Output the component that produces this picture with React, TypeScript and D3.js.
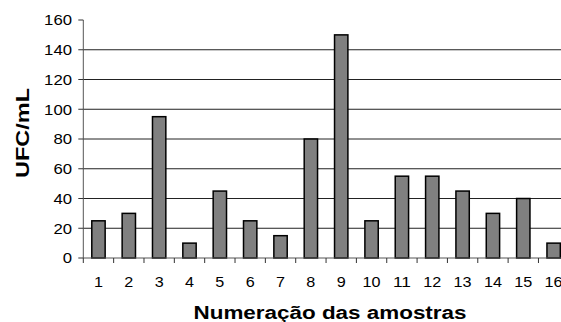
import React from "react";
import * as d3 from "d3";

const categories = ["1","2","3","4","5","6","7","8","9","10","11","12","13","14","15","16"];
const values = [25, 30, 95, 10, 45, 25, 15, 80, 150, 25, 55, 55, 45, 30, 40, 10];
const yTicks = [0, 20, 40, 60, 80, 100, 120, 140, 160];
const yLabel = "UFC/mL";
const xLabel = "Numeração das amostras";

const W = 561, H = 322;
const left = 83.3, right = 568.8, top = 20, bottom = 258;
const font = "Arial, 'Liberation Sans', sans-serif";

export default function App() {
  const x = d3.scaleBand<string>().domain(categories).range([left, right]).paddingInner(0.56).paddingOuter(0.28);
  const y = d3.scaleLinear().domain([0, 160]).range([bottom, top]);
  const step = x.step();
  const boundaries = d3.range(categories.length + 1).map((i) => left + i * step);

  return (
    <svg width={W} height={H} style={{ position: "absolute", left: 0, top: 0, background: "#fff" }}>
      {yTicks.filter((t) => t > 0 && t < 160).map((t) => (
        <line key={"g" + t} x1={left} x2={right} y1={y(t)} y2={y(t)} stroke="#222" strokeWidth={1} />
      ))}
      {values.map((v, i) => (
        <rect key={"b" + i} x={x(categories[i])} y={y(v)} width={x.bandwidth()} height={bottom - y(v)}
          fill="#808080" stroke="#000" strokeWidth={1.5} />
      ))}
      <line x1={left} x2={left} y1={top} y2={bottom} stroke="#555" strokeWidth={1} />
      <line x1={left} x2={right} y1={bottom} y2={bottom} stroke="#555" strokeWidth={1} />
      {yTicks.map((t) => (
        <g key={"yt" + t}>
          <line x1={left - 5} x2={left} y1={y(t)} y2={y(t)} stroke="#333" strokeWidth={1} />
          <text x={72} y={y(t) + 5.3} textAnchor="end" fontFamily={font} fontSize={15}
            textLength={String(t).length * 9.3} lengthAdjust="spacingAndGlyphs">{t}</text>
        </g>
      ))}
      {boundaries.map((b, i) => (
        <line key={"xt" + i} x1={b} x2={b} y1={bottom} y2={bottom + 5} stroke="#333" strokeWidth={1} />
      ))}
      {categories.map((c) => (
        <text key={"xl" + c} x={(x(c) as number) + x.bandwidth() / 2} y={287} textAnchor="middle"
          fontFamily={font} fontSize={14} textLength={c.length * 9} lengthAdjust="spacingAndGlyphs">{c}</text>
      ))}
      <text x={330} y={319} textAnchor="middle" fontFamily={font} fontSize={18} fontWeight="bold"
        textLength={273} lengthAdjust="spacingAndGlyphs">{xLabel}</text>
      <text transform="translate(29,133) rotate(-90)" textAnchor="middle" fontFamily={font} fontSize={19}
        fontWeight="bold" textLength={90} lengthAdjust="spacingAndGlyphs">{yLabel}</text>
    </svg>
  );
}
